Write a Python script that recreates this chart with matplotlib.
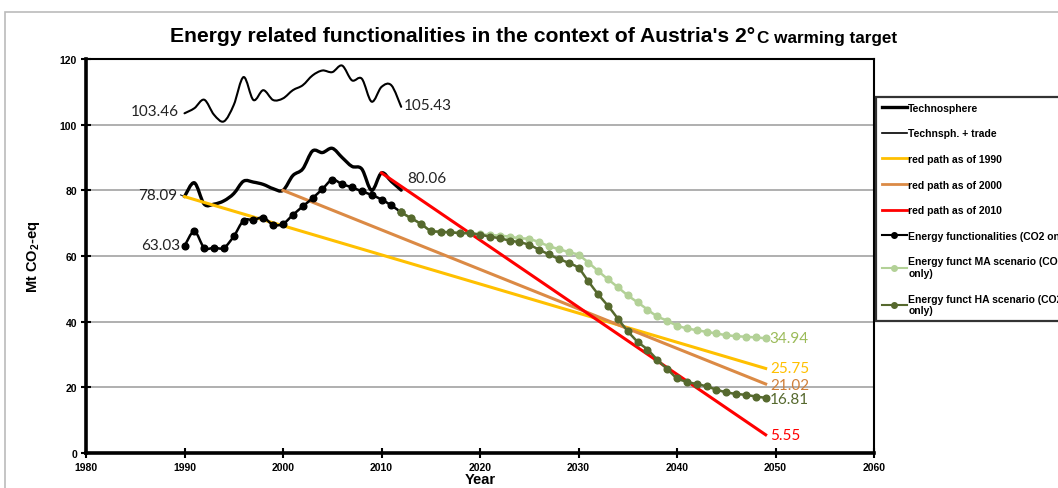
import numpy as np
import matplotlib
matplotlib.use("Agg")
import matplotlib.pyplot as plt
from matplotlib.path import Path
from matplotlib.patches import PathPatch, Rectangle
from matplotlib.lines import Line2D

plt.rcParams['font.family'] = ['Liberation Sans', 'DejaVu Sans']
plt.rcParams['mathtext.fontset'] = 'custom'
plt.rcParams['mathtext.bf'] = 'Liberation Sans:bold'

# data
years_hist = list(range(1990, 2013))
technosphere = [78.09, 82.3, 75.8, 75.8, 76.8, 79.0, 82.8, 82.5, 81.8, 80.5, 80.0, 84.5, 86.5,
                92.0, 91.5, 92.8, 90.0, 87.3, 86.5, 80.0, 85.3, 82.7, 80.06]
techno_trade = [103.46, 105.0, 107.6, 103.0, 101.0, 106.0, 114.5, 107.5, 110.5, 107.5, 108.0, 110.5,
                112.0, 115.0, 116.5, 116.0, 118.0, 113.5, 114.0, 107.0, 111.5, 112.0, 105.43]
energy_func = [63.03, 67.5, 62.5, 62.5, 62.5, 66.0, 70.8, 71.0, 71.7, 69.5, 69.8, 72.5, 75.1,
               77.6, 80.4, 83.2, 81.9, 80.9, 79.7, 78.6, 77.2, 75.4, 73.3]

years_scen = list(range(2012, 2050))
ha_scen = [73.3, 71.5, 69.8, 67.7, 67.4, 67.2, 67.0, 66.9, 66.5, 65.9, 65.4, 64.7, 64.2, 63.4,
           61.9, 60.5, 59.1, 57.9, 56.3, 52.3, 48.3, 44.8, 40.9, 37.1, 33.9, 31.5, 28.4, 25.6,
           22.8, 21.7, 21.0, 20.3, 19.3, 18.5, 18.0, 17.7, 17.2, 16.81]
ma_scen = [73.3, 71.5, 69.8, 67.7, 67.4, 67.2, 67.0, 66.9, 66.6, 66.4, 66.2, 65.9, 65.4, 65.2,
           64.2, 63.0, 62.1, 61.2, 60.3, 58.0, 55.4, 52.9, 50.5, 48.0, 45.9, 43.7, 41.6, 40.3,
           38.8, 38.0, 37.4, 36.9, 36.4, 35.9, 35.6, 35.4, 35.2, 34.94]

path_1990_x = [1990, 2049]
path_1990_y = [78.09, 25.75]
path_2000_x = [2000, 2049]
path_2000_y = [80.0, 21.02]
path_2010_x = [2010, 2049]
path_2010_y = [85.3, 5.55]

c_yellow = '#FFC000'
c_orange = '#DB8A45'
c_red = '#FF0000'
c_light = '#B3D197'
c_dark = '#56692E'


def smooth_path(x, y):
    # Excel-like smoothed line through the points (Bezier segments)
    n = len(x)
    verts = [(x[0], y[0])]
    codes = [Path.MOVETO]
    for i in range(n - 1):
        xa, ya = (x[i - 1], y[i - 1]) if i > 0 else (x[i], y[i])
        xb, yb = (x[i + 2], y[i + 2]) if i + 2 < n else (x[i + 1], y[i + 1])
        c1 = (x[i] + (x[i + 1] - xa) / 6, y[i] + (y[i + 1] - ya) / 6)
        c2 = (x[i + 1] - (xb - x[i]) / 6, y[i + 1] - (yb - y[i]) / 6)
        verts += [c1, c2, (x[i + 1], y[i + 1])]
        codes += [Path.CURVE4] * 3
    return Path(verts, codes)


def smooth_line(ax, x, y, color, lw, z):
    ax.add_patch(PathPatch(smooth_path(x, y), fill=False, edgecolor=color, lw=lw,
                           capstyle='round', joinstyle='round', zorder=z))


fig = plt.figure(figsize=(10.58, 4.89), dpi=100)
ax = fig.add_axes([86 / 1058, 1 - 454 / 489, 788 / 1058, 394 / 489])

# outer chart frame
fig.add_artist(Rectangle((5 / 1058, -0.1), 1.2, 1 - 13 / 489 + 0.1, transform=fig.transFigure,
                         fill=False, edgecolor='#BBBBBB', lw=1.2))

ax.set_xlim(1980, 2060)
ax.set_ylim(0, 120)
ax.set_xticks(range(1980, 2061, 10))
ax.set_yticks(range(0, 121, 20))
ax.yaxis.grid(True, color='#9A9A9A', lw=1.1)
ax.set_axisbelow(True)
ax.tick_params(direction='inout', length=7, width=1.5, labelsize=7.5, pad=3)
plt.setp(ax.get_xticklabels(), fontweight='bold')
plt.setp(ax.get_yticklabels(), fontweight='bold')
for s in ['left', 'bottom']:
    ax.spines[s].set_linewidth(2.6)
for s in ['top', 'right']:
    ax.spines[s].set_linewidth(1.5)

smooth_line(ax, years_hist, technosphere, 'black', 2.4, 3)
smooth_line(ax, years_hist, techno_trade, 'black', 1.5, 3)
ax.plot(path_1990_x, path_1990_y, color=c_yellow, lw=2.2, zorder=4)
ax.plot(path_2000_x, path_2000_y, color=c_orange, lw=2.2, zorder=4)
ax.plot(path_2010_x, path_2010_y, color=c_red, lw=2.2, zorder=4)
smooth_line(ax, years_hist, energy_func, 'black', 1.8, 5)
ax.plot(years_hist, energy_func, ls='none', marker='o', ms=4.8, color='black', zorder=5)
smooth_line(ax, years_scen, ma_scen, c_light, 1.8, 6)
ax.plot(years_scen, ma_scen, ls='none', marker='o', ms=4.8, color=c_light, zorder=6)
smooth_line(ax, years_scen, ha_scen, c_dark, 1.8, 7)
ax.plot(years_scen, ha_scen, ls='none', marker='o', ms=4.8, color=c_dark, zorder=7)

# value labels
lab = dict(fontsize=11, family=['Lato', 'DejaVu Sans'], textcoords='offset points', va='center')
ax.annotate('103.46', (years_hist[0], techno_trade[0]), xytext=(-4, 2), ha='right', color='#222222', **lab)
ax.annotate('105.43', (years_hist[-1], techno_trade[-1]), xytext=(2, 1), ha='left', color='#222222', **lab)
ax.annotate('78.09', (years_hist[0], technosphere[0]), xytext=(-5, 1), ha='right', color='#222222', **lab)
ax.plot([1989.6, 1990], [78.6, 78.09], color='#222222', lw=0.8, zorder=3, clip_on=False)
ax.annotate('63.03', (years_hist[0], energy_func[0]), xytext=(-3, 1), ha='right', color='#222222', **lab)
ax.annotate('80.06', (years_hist[-1], technosphere[-1]), xytext=(4, 9), ha='left', color='#222222', **lab)
ax.annotate('34.94', (years_scen[-1], ma_scen[-1]), xytext=(3, 0), ha='left', color='#9BBB59', **lab)
ax.annotate('25.75', (path_1990_x[-1], path_1990_y[-1]), xytext=(3, 0), ha='left', color=c_yellow, **lab)
ax.annotate('21.02', (path_2000_x[-1], path_2000_y[-1]), xytext=(3, -1), ha='left', color='#D0803A', **lab)
ax.annotate('16.81', (years_scen[-1], ha_scen[-1]), xytext=(3, -1), ha='left', color=c_dark, **lab)
ax.annotate('5.55', (path_2010_x[-1], path_2010_y[-1]), xytext=(3, 0), ha='left', color=c_red, **lab)

ax.set_xlabel('Year', fontsize=10.5, fontweight='bold', labelpad=0)
ax.set_ylabel(r'Mt CO$_\mathbf{2}$-eq', fontsize=10.5, fontweight='bold', labelpad=13)

# title with smaller tail
t1 = fig.text(170 / 1058, 1 - 46 / 489, "Energy related functionalities in the context of Austria's 2\u00b0",
              fontsize=15.2, fontweight='bold', ha='left', va='bottom')
ax.annotate('C warming target', xy=(1, 0), xycoords=t1, xytext=(1, 0), textcoords='offset points',
            fontsize=12.3, fontweight='bold', ha='left', va='bottom', annotation_clip=False)

handles = [
    Line2D([], [], color='black', lw=2.4),
    Line2D([], [], color='black', lw=1.2),
    Line2D([], [], color=c_yellow, lw=2),
    Line2D([], [], color=c_orange, lw=2),
    Line2D([], [], color=c_red, lw=2),
    Line2D([], [], color='black', lw=1.5, marker='o', ms=4),
    Line2D([], [], color=c_light, lw=1.5, marker='o', ms=4),
    Line2D([], [], color=c_dark, lw=1.5, marker='o', ms=4),
]
labels = ['Technosphere', 'Technsph. + trade', 'red path as of 1990', 'red path as of 2000',
          'red path as of 2010', 'Energy functionalities (CO2 only)',
          'Energy funct MA scenario (CO2\nonly)', 'Energy funct HA scenario (CO2\nonly)']
leg = fig.legend(handles, labels, loc='upper left', bbox_to_anchor=(876 / 1058, 1 - 98 / 489),
                 bbox_transform=fig.transFigure, borderaxespad=0,
                 prop={'weight': 'bold', 'size': 7.5}, handlelength=2.4, handletextpad=0.15,
                 labelspacing=1.5, borderpad=0.55, fancybox=False, framealpha=1)
leg.get_frame().set_edgecolor('#333333')
leg.get_frame().set_linewidth(1.6)

fig.savefig('out.png', dpi=100)
